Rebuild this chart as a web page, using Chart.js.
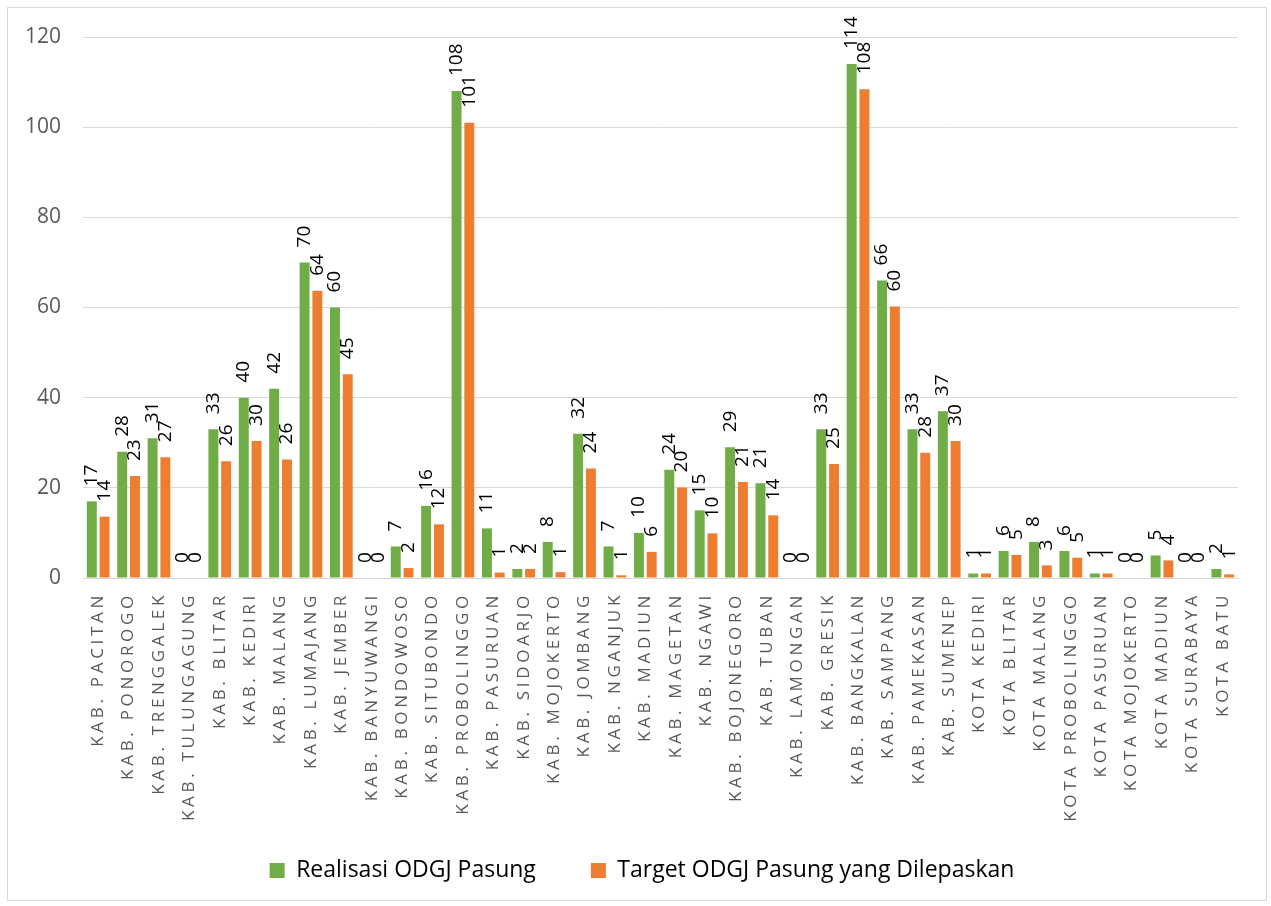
<!DOCTYPE html>
<html lang="id">
<head>
<meta charset="utf-8">
<title>Realisasi dan Target ODGJ Pasung</title>
<script src="https://cdn.jsdelivr.net/npm/chart.js@4.4.0/dist/chart.umd.min.js"></script>
<style>
  html, body { margin: 0; padding: 0; background: #ffffff; }
  #frame {
    position: absolute; left: 7px; top: 7px;
    width: 1258px; height: 892px;
    border: 1px solid #d9d9d9;
  }
  #wrap { position: absolute; left: 0; top: 0; width: 1271px; height: 906px; }
</style>
</head>
<body>
<div id="frame"></div>
<div id="wrap"><canvas id="chart" width="1271" height="906"></canvas></div>
<script>
// Kabupaten / kota
const categories = [
  'KAB. PACITAN', 'KAB. PONOROGO', 'KAB. TRENGGALEK', 'KAB. TULUNGAGUNG',
  'KAB. BLITAR', 'KAB. KEDIRI', 'KAB. MALANG', 'KAB. LUMAJANG', 'KAB. JEMBER',
  'KAB. BANYUWANGI', 'KAB. BONDOWOSO', 'KAB. SITUBONDO', 'KAB. PROBOLINGGO',
  'KAB. PASURUAN', 'KAB. SIDOARJO', 'KAB. MOJOKERTO', 'KAB. JOMBANG',
  'KAB. NGANJUK', 'KAB. MADIUN', 'KAB. MAGETAN', 'KAB. NGAWI', 'KAB. BOJONEGORO',
  'KAB. TUBAN', 'KAB. LAMONGAN', 'KAB. GRESIK', 'KAB. BANGKALAN', 'KAB. SAMPANG',
  'KAB. PAMEKASAN', 'KAB. SUMENEP', 'KOTA KEDIRI', 'KOTA BLITAR', 'KOTA MALANG',
  'KOTA PROBOLINGGO', 'KOTA PASURUAN', 'KOTA MOJOKERTO', 'KOTA MADIUN',
  'KOTA SURABAYA', 'KOTA BATU'
];

// Realisasi ODGJ Pasung
const realisasi = [
  17, 28, 31, 0, 33, 40, 42, 70, 60, 0, 7, 16, 108, 11, 2, 8, 32, 7, 10,
  24, 15, 29, 21, 0, 33, 114, 66, 33, 37, 1, 6, 8, 6, 1, 0, 5, 0, 2
];

// Target ODGJ Pasung yang Dilepaskan
const target = [
  13.6, 22.6, 26.8, 0, 25.9, 30.4, 26.3, 63.7, 45.2, 0, 2.2, 11.9, 101.0,
  1.2, 2.0, 1.3, 24.3, 0.6, 5.8, 20.1, 9.9, 21.3, 13.9, 0, 25.3, 108.4, 60.2,
  27.8, 30.4, 1.0, 5.1, 2.8, 4.5, 1.0, 0, 3.9, 0, 0.8
];

// Value axis ticks
const yTicks = [0, 20, 40, 60, 80, 100, 120];

const seriesNames = ['Realisasi ODGJ Pasung', 'Target ODGJ Pasung yang Dilepaskan'];
const seriesColors = ['#70AD47', '#ED7D31'];

Chart.defaults.font.family = "'Open Sans', sans-serif";

// Rotated value labels above each bar
const valueLabels = {
  id: 'valueLabels',
  afterDatasetsDraw(chart) {
    const ctx = chart.ctx;
    ctx.save();
    ctx.font = "19px 'Open Sans', sans-serif";
    ctx.fillStyle = '#000000';
    ctx.textAlign = 'left';
    ctx.textBaseline = 'middle';
    chart.data.datasets.forEach((ds, i) => {
      chart.getDatasetMeta(i).data.forEach((bar, j) => {
        ctx.save();
        ctx.translate(bar.x, bar.y - 15);
        ctx.rotate(-Math.PI / 2);
        ctx.fillText(String(Math.round(ds.data[j])), 0, 0);
        ctx.restore();
      });
    });
    ctx.restore();
  }
};

// Tick labels may run past their axis boxes; category labels get wide letter spacing
const axisLabelStyle = {
  id: 'axisLabelStyle',
  beforeDraw(chart) {
    Object.values(chart.scales).forEach(sc => {
      if (sc._styled) return;
      sc._computeLabelArea = () => undefined;
      if (sc.axis === 'x') {
        const original = sc.drawLabels.bind(sc);
        sc.drawLabels = function (area) {
          const c = chart.ctx;
          c.save();
          c.letterSpacing = '3.7px';
          original(area);
          c.restore();
        };
      }
      sc._styled = true;
    });
  }
};

new Chart(document.getElementById('chart'), {
  type: 'bar',
  data: {
    labels: categories,
    datasets: [
      { label: seriesNames[0], data: realisasi, backgroundColor: seriesColors[0] },
      { label: seriesNames[1], data: target, backgroundColor: seriesColors[1] }
    ]
  },
  options: {
    responsive: false,
    animation: false,
    datasets: { bar: { categoryPercentage: 0.84, barPercentage: 0.78 } },
    layout: { padding: { left: 46, right: 33, top: 37, bottom: 14 } },
    scales: {
      x: {
        grid: { display: false, drawTicks: false },
        border: { color: '#d9d9d9', width: 1 },
        ticks: {
          autoSkip: false, minRotation: 90, maxRotation: 90, padding: 14,
          color: '#595959', font: { size: 17 }
        },
        afterFit(scale) { scale.height = 226; }
      },
      y: {
        min: yTicks[0], max: yTicks[yTicks.length - 1],
        afterBuildTicks(scale) { scale.ticks = yTicks.map(v => ({ value: v })); },
        grid: { color: '#d9d9d9', lineWidth: 1, drawTicks: false },
        border: { display: false },
        ticks: { padding: 22, color: '#595959', font: { size: 21 } },
        afterFit(scale) { scale.width = 37; }
      }
    },
    plugins: {
      legend: {
        position: 'bottom',
        labels: {
          boxWidth: 15, boxHeight: 15, padding: 55,
          color: '#000000', font: { size: 23 }
        }
      },
      tooltip: { enabled: false }
    }
  },
  plugins: [valueLabels, axisLabelStyle]
});
</script>
</body>
</html>
